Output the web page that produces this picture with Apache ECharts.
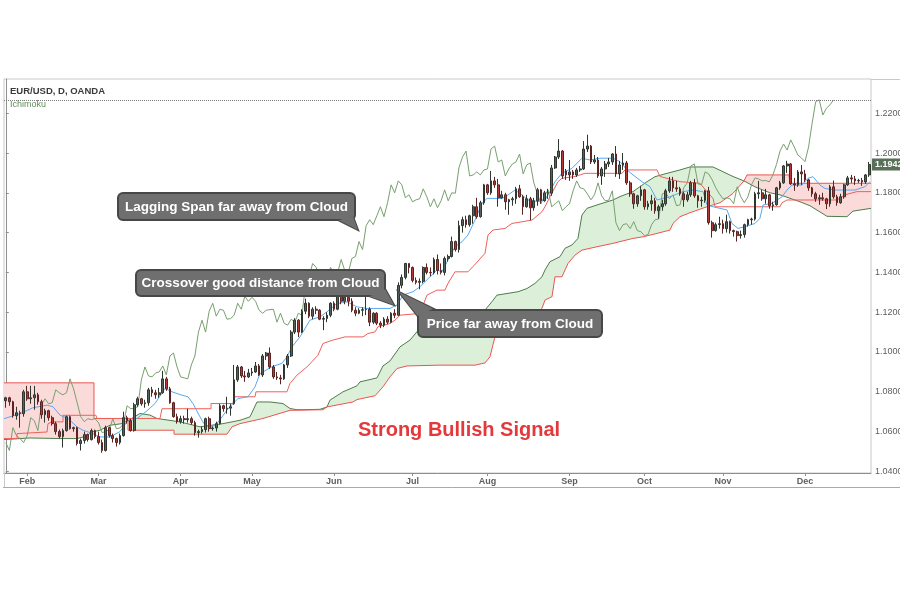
<!DOCTYPE html>
<html>
<head>
<meta charset="utf-8">
<title>EUR/USD, D, OANDA - Ichimoku</title>
<script src="https://cdn.jsdelivr.net/npm/echarts@6/dist/echarts.min.js"></script>
<style>
  html, body { margin: 0; padding: 0; background: #fff; }
  #chart { width: 900px; height: 600px; }
</style>
</head>
<body>
<div id="chart"></div>
<script>
// x axis: one unit per daily bar, first bar = Jan 24
const monthNames = ['Feb', 'Mar', 'Apr', 'May', 'Jun', 'Jul', 'Aug', 'Sep', 'Oct', 'Nov', 'Dec'];
const monthStarts = [6, 26, 49, 69, 92, 114, 135, 158, 179, 201, 224];
const priceTicks = [1.04, 1.06, 1.08, 1.10, 1.12, 1.14, 1.16, 1.18, 1.20, 1.22];
const lastPrice = 1.1942;
const lagHigh = 1.2267;

// daily candles [open, close, low, high]
const ohlc = [
  [1.0755,1.0770,1.0720,1.0775],[1.0770,1.0750,1.0730,1.0775],[1.0750,1.0680,1.0670,1.0755],[1.0680,1.0695,1.0660,1.0725],
  [1.0695,1.0690,1.0620,1.0705],[1.0690,1.0800,1.0675,1.0810],[1.0800,1.0765,1.0755,1.0830],[1.0765,1.0770,1.0740,1.0830],
  [1.0770,1.0785,1.0710,1.0830],[1.0785,1.0750,1.0735,1.0795],[1.0750,1.0685,1.0665,1.0760],[1.0685,1.0705,1.0645,1.0715],
  [1.0705,1.0670,1.0655,1.0710],[1.0670,1.0640,1.0630,1.0680],[1.0640,1.0600,1.0585,1.0650],[1.0600,1.0575,1.0565,1.0610],
  [1.0575,1.0605,1.0520,1.0615],[1.0605,1.0675,1.0600,1.0680],[1.0675,1.0615,1.0610,1.0680],[1.0615,1.0620,1.0600,1.0625],
  [1.0620,1.0540,1.0530,1.0625],[1.0540,1.0555,1.0505,1.0565],[1.0555,1.0585,1.0540,1.0600],[1.0585,1.0560,1.0550,1.0590],
  [1.0560,1.0605,1.0555,1.0615],[1.0605,1.0575,1.0565,1.0610],[1.0575,1.0545,1.0535,1.0600],[1.0545,1.0505,1.0494,1.0560],
  [1.0505,1.0620,1.0500,1.0630],[1.0620,1.0580,1.0570,1.0625],[1.0580,1.0565,1.0545,1.0590],[1.0565,1.0545,1.0525,1.0570],
  [1.0545,1.0580,1.0535,1.0590],[1.0580,1.0670,1.0575,1.0700],[1.0670,1.0655,1.0640,1.0680],[1.0655,1.0605,1.0600,1.0665],
  [1.0605,1.0735,1.0600,1.0745],[1.0735,1.0765,1.0725,1.0775],[1.0765,1.0740,1.0730,1.0770],[1.0740,1.0745,1.0720,1.0760],
  [1.0745,1.0810,1.0730,1.0820],[1.0810,1.0795,1.0775,1.0825],[1.0795,1.0785,1.0765,1.0810],[1.0785,1.0795,1.0770,1.0820],
  [1.0795,1.0865,1.0790,1.0905],[1.0865,1.0815,1.0805,1.0875],[1.0815,1.0745,1.0740,1.0825],[1.0745,1.0675,1.0670,1.0750],
  [1.0675,1.0650,1.0640,1.0690],[1.0650,1.0665,1.0640,1.0680],[1.0665,1.0660,1.0640,1.0680],[1.0660,1.0665,1.0645,1.0715],
  [1.0665,1.0645,1.0635,1.0675],[1.0645,1.0595,1.0580,1.0655],[1.0595,1.0600,1.0570,1.0610],[1.0600,1.0610,1.0590,1.0625],
  [1.0610,1.0665,1.0595,1.0670],[1.0665,1.0615,1.0600,1.0675],[1.0615,1.0618,1.0605,1.0625],[1.0618,1.0640,1.0600,1.0650],
  [1.0640,1.0730,1.0635,1.0740],[1.0730,1.0715,1.0700,1.0735],[1.0715,1.0718,1.0690,1.0775],[1.0718,1.0725,1.0680,1.0740],
  [1.0740,1.0860,1.0735,1.0935],[1.0860,1.0925,1.0850,1.0935],[1.0925,1.0880,1.0870,1.0930],[1.0880,1.0875,1.0850,1.0905],
  [1.0875,1.0895,1.0870,1.0915],[1.0895,1.0900,1.0880,1.0920],[1.0900,1.0930,1.0895,1.0950],[1.0930,1.0885,1.0880,1.0940],
  [1.0885,1.0980,1.0875,1.0990],[1.0980,1.0995,1.0960,1.1000],[1.0995,1.0925,1.0915,1.1023],[1.0925,1.0875,1.0865,1.0935],
  [1.0875,1.0870,1.0860,1.0900],[1.0870,1.0865,1.0838,1.0885],[1.0865,1.0935,1.0860,1.0940],[1.0935,1.0980,1.0920,1.0990],
  [1.0980,1.1100,1.0975,1.1110],[1.1100,1.1160,1.1090,1.1170],[1.1160,1.1100,1.1075,1.1165],[1.1100,1.1205,1.1095,1.1215],
  [1.1205,1.1245,1.1190,1.1268],[1.1245,1.1180,1.1170,1.1250],[1.1180,1.1215,1.1165,1.1225],[1.1215,1.1210,1.1190,1.1230],
  [1.1210,1.1165,1.1160,1.1215],[1.1165,1.1168,1.1110,1.1180],[1.1168,1.1185,1.1150,1.1200],[1.1185,1.1245,1.1175,1.1250],
  [1.1245,1.1215,1.1205,1.1255],[1.1215,1.1280,1.1210,1.1285],[1.1280,1.1255,1.1240,1.1285],[1.1255,1.1275,1.1240,1.1285],
  [1.1275,1.1255,1.1230,1.1285],[1.1255,1.1210,1.1200,1.1270],[1.1210,1.1195,1.1180,1.1225],[1.1195,1.1210,1.1190,1.1220],
  [1.1210,1.1213,1.1180,1.1225],[1.1213,1.1215,1.1185,1.1295],[1.1215,1.1150,1.1130,1.1225],[1.1150,1.1195,1.1140,1.1200],
  [1.1195,1.1145,1.1135,1.1200],[1.1145,1.1135,1.1120,1.1155],[1.1135,1.1165,1.1125,1.1175],[1.1165,1.1150,1.1140,1.1180],
  [1.1150,1.1195,1.1145,1.1200],[1.1195,1.1185,1.1170,1.1215],[1.1185,1.1335,1.1180,1.1350],[1.1335,1.1375,1.1320,1.1390],
  [1.1375,1.1445,1.1365,1.1448],[1.1445,1.1425,1.1395,1.1445],[1.1425,1.1360,1.1350,1.1430],[1.1360,1.1350,1.1340,1.1375],
  [1.1350,1.1355,1.1315,1.1370],[1.1355,1.1425,1.1345,1.1430],[1.1425,1.1400,1.1390,1.1445],[1.1400,1.1398,1.1380,1.1425],
  [1.1398,1.1465,1.1390,1.1475],[1.1465,1.1410,1.1390,1.1490],[1.1410,1.1400,1.1390,1.1445],[1.1400,1.1470,1.1385,1.1480],
  [1.1470,1.1480,1.1455,1.1490],[1.1480,1.1555,1.1475,1.1580],[1.1555,1.1515,1.1505,1.1560],[1.1515,1.1635,1.1500,1.1660],
  [1.1635,1.1665,1.1600,1.1680],[1.1665,1.1640,1.1625,1.1685],[1.1640,1.1685,1.1630,1.1690],[1.1685,1.1730,1.1645,1.1740],
  [1.1730,1.1680,1.1670,1.1775],[1.1680,1.1750,1.1675,1.1760],[1.1750,1.1840,1.1740,1.1845],[1.1840,1.1800,1.1790,1.1845],
  [1.1800,1.1860,1.1790,1.1910],[1.1860,1.1840,1.1825,1.1880],[1.1840,1.1775,1.1730,1.1870],[1.1775,1.1790,1.1770,1.1810],
  [1.1790,1.1755,1.1715,1.1800],[1.1755,1.1765,1.1690,1.1770],[1.1765,1.1770,1.1735,1.1780],[1.1770,1.1820,1.1745,1.1830],
  [1.1820,1.1780,1.1775,1.1840],[1.1780,1.1730,1.1690,1.1790],[1.1730,1.1770,1.1725,1.1790],[1.1770,1.1725,1.1662,1.1780],
  [1.1725,1.1760,1.1710,1.1775],[1.1760,1.1815,1.1735,1.1825],[1.1815,1.1760,1.1745,1.1820],[1.1760,1.1800,1.1755,1.1810],
  [1.1800,1.1798,1.1770,1.1820],[1.1798,1.1925,1.1785,1.1940],[1.1925,1.1980,1.1920,1.1985],[1.1980,1.2010,1.1970,1.2070],
  [1.2010,1.1885,1.1870,1.2015],[1.1910,1.1890,1.1865,1.1920],[1.1890,1.1905,1.1860,1.1965],[1.1905,1.1890,1.1870,1.1915],
  [1.1890,1.1915,1.1880,1.1925],[1.1915,1.1920,1.1905,1.1935],[1.1920,1.2020,1.1915,1.2060],[1.2020,1.2035,1.2005,1.2092],
  [1.2035,1.1955,1.1945,1.2040],[1.1955,1.1965,1.1945,1.1990],[1.1965,1.1885,1.1875,1.1980],[1.1885,1.1920,1.1840,1.1930],
  [1.1920,1.1945,1.1880,1.1960],[1.1945,1.1955,1.1930,1.1975],[1.1955,1.1995,1.1940,1.2000],[1.1995,1.1895,1.1880,1.2035],
  [1.1895,1.1940,1.1870,1.1960],[1.1940,1.1950,1.1915,1.2000],[1.1950,1.1850,1.1840,1.1960],[1.1850,1.1795,1.1780,1.1860],
  [1.1795,1.1745,1.1720,1.1800],[1.1745,1.1785,1.1730,1.1790],[1.1785,1.1815,1.1760,1.1835],[1.1815,1.1730,1.1715,1.1820],
  [1.1730,1.1745,1.1715,1.1760],[1.1745,1.1760,1.1710,1.1790],[1.1760,1.1710,1.1695,1.1775],[1.1710,1.1730,1.1670,1.1740],
  [1.1730,1.1745,1.1710,1.1765],[1.1745,1.1810,1.1735,1.1820],[1.1810,1.1860,1.1800,1.1880],[1.1860,1.1825,1.1805,1.1880],
  [1.1825,1.1820,1.1805,1.1860],[1.1820,1.1795,1.1785,1.1830],[1.1795,1.1765,1.1730,1.1805],[1.1765,1.1790,1.1755,1.1805],
  [1.1790,1.1850,1.1780,1.1860],[1.1850,1.1785,1.1775,1.1870],[1.1785,1.1760,1.1725,1.1790],[1.1760,1.1763,1.1730,1.1780],
  [1.1763,1.1810,1.1750,1.1815],[1.1810,1.1650,1.1640,1.1830],[1.1650,1.1610,1.1575,1.1660],[1.1610,1.1640,1.1605,1.1650],
  [1.1640,1.1645,1.1620,1.1680],[1.1645,1.1620,1.1595,1.1665],[1.1620,1.1655,1.1600,1.1690],[1.1655,1.1610,1.1595,1.1660],
  [1.1610,1.1605,1.1580,1.1615],[1.1605,1.1585,1.1555,1.1610],[1.1585,1.1590,1.1570,1.1610],[1.1590,1.1640,1.1575,1.1645],
  [1.1640,1.1665,1.1630,1.1670],[1.1665,1.1668,1.1640,1.1675],[1.1668,1.1795,1.1660,1.1805],[1.1795,1.1800,1.1770,1.1860],
  [1.1800,1.1770,1.1760,1.1815],[1.1770,1.1790,1.1745,1.1820],[1.1790,1.1735,1.1720,1.1795],[1.1735,1.1740,1.1710,1.1755],
  [1.1740,1.1825,1.1735,1.1830],[1.1825,1.1850,1.1815,1.1860],[1.1850,1.1935,1.1845,1.1940],[1.1935,1.1945,1.1900,1.1961],
  [1.1945,1.1845,1.1840,1.1950],[1.1845,1.1840,1.1810,1.1875],[1.1840,1.1905,1.1830,1.1915],[1.1905,1.1895,1.1840,1.1940],
  [1.1895,1.1865,1.1855,1.1915],[1.1865,1.1825,1.1810,1.1870],[1.1825,1.1795,1.1780,1.1830],[1.1795,1.1770,1.1755,1.1805],
  [1.1770,1.1775,1.1740,1.1790],[1.1775,1.1770,1.1760,1.1800],[1.1770,1.1745,1.1718,1.1775],[1.1745,1.1830,1.1730,1.1840],
  [1.1830,1.1780,1.1770,1.1862],[1.1780,1.1750,1.1735,1.1790],[1.1750,1.1780,1.1745,1.1795],[1.1780,1.1840,1.1770,1.1845],
  [1.1840,1.1875,1.1835,1.1885],[1.1875,1.1870,1.1850,1.1890],[1.1870,1.1860,1.1840,1.1885],[1.1860,1.1862,1.1850,1.1870],
  [1.1862,1.1855,1.1835,1.1875],[1.1855,1.1890,1.1845,1.1895],[1.1890,1.1942,1.1880,1.1955]
];

// conversion line (blue) [bar, price]
const tenkan = [
  [-0.5,1.0665],[3.98,1.0690],[7.63,1.0720],[11.55,1.0733],[13.23,1.0725],[15.19,1.0683],[17.44,1.0666],[19.96,1.0624],
  [21.64,1.0607],[24.44,1.0590],[26.41,1.0573],[29.21,1.0573],[32.01,1.0600],[33.97,1.0650],[36.78,1.0666],[39.58,1.0705],
  [41.82,1.0741],[44.62,1.0817],[46.59,1.0800],[49.39,1.0783],[51.07,1.0775],[52.47,1.0741],[54.43,1.0674],[55.83,1.0632],
  [57.80,1.0624],[59.20,1.0641],[60.60,1.0674],[62.00,1.0708],[63.68,1.0741],[65.08,1.0766],[67.88,1.0775],[69.85,1.0825],
  [71.25,1.0892],[74.61,1.0926],[77.42,1.0943],[78.80,1.0976],[80.22,1.1026],[82.46,1.1076],[85.26,1.1160],[88.07,1.1177],
  [90.03,1.1202],[92.83,1.1244],[95.63,1.1252],[98.43,1.1227],[101.24,1.1219],[107.68,1.1219],[109.65,1.1236],[111.33,1.1286],
  [114.13,1.1303],[116.09,1.1328],[118.89,1.1378],[120.85,1.1412],[122.26,1.1403],[123.94,1.1462],[125.90,1.1529],[127.86,1.1554],
  [129.54,1.1588],[131.51,1.1663],[133.47,1.1747],[134.87,1.1772],[139.07,1.1772],[140.75,1.1789],[142.72,1.1814],[144.68,1.1789],
  [146.36,1.1764],[149.16,1.1756],[151.13,1.1764],[152.53,1.1806],[153.93,1.1856],[155.89,1.1898],[158.69,1.1923],[161.49,1.1974],
  [163.74,1.1965],[166.54,1.1974],[170.18,1.1974],[172.15,1.1957],[174.11,1.1915],[175.79,1.1890],[178.31,1.1856],[180.55,1.1831],
  [182.52,1.1764],[184.20,1.1772],[186.16,1.1780],[189.80,1.1806],[192.61,1.1814],[195.41,1.1806],[196.53,1.1739],[198.21,1.1730],
  [202.13,1.1714],[203.53,1.1646],[205.22,1.1621],[207.18,1.1630],[209.98,1.1646],[211.38,1.1672],[212.22,1.1739],[214.75,1.1747],
  [217.55,1.1780],[218.95,1.1814],[220.35,1.1839],[223.16,1.1839],[224.84,1.1873],[226.24,1.1881],[228.20,1.1839],[229.60,1.1822],
  [232.41,1.1814],[238.01,1.1814],[240.81,1.1831],[242.21,1.1856]
];

// base line (red)
const kijun = [
  [-0.5,1.0565],[3.14,1.0565],[3.14,1.0590],[11.55,1.0598],[11.83,1.0640],[12.95,1.0649],[16.04,1.0649],[16.04,1.0682],
  [25.28,1.0682],[25.56,1.0666],[43.22,1.0666],[43.78,1.0715],[57.52,1.0715],[57.52,1.0741],[63.68,1.0741],[63.96,1.0775],
  [69.85,1.0775],[70.13,1.0800],[78.80,1.0800],[79.66,1.0842],[81.62,1.0884],[84.42,1.0925],[87.50,1.0984],[88.91,1.1043],
  [91.71,1.1060],[95.07,1.1076],[100.12,1.1076],[101.52,1.1093],[103.48,1.1101],[104.32,1.1127],[107.68,1.1143],[109.08,1.1160],
  [110.49,1.1185],[116.09,1.1194],[118.05,1.1286],[120.85,1.1311],[123.10,1.1311],[123.94,1.1345],[125.90,1.1403],[129.54,1.1403],
  [130.94,1.1429],[134.31,1.1496],[135.15,1.1588],[136.55,1.1613],[139.91,1.1621],[141.87,1.1646],[147.48,1.1663],[150.28,1.1705],
  [151.13,1.1730],[152.53,1.1781],[154.77,1.1856],[155.89,1.1873],[159.53,1.1882],[162.33,1.1898],[172.71,1.1898],[173.55,1.1915],
  [182.52,1.1915],[183.36,1.1882],[188.96,1.1856],[194.57,1.1848],[196.53,1.1806],[198.21,1.1772],[198.77,1.1730],[216.99,1.1730],
  [217.55,1.1750],[218.95,1.1764],[232.97,1.1764],[235.21,1.1790],[238.57,1.1806],[242.5,1.1806]
];

// leading span A (dark green) and B (red), already shifted forward
const spanA = [
  [-0.5,1.0560],[6.79,1.0568],[15.19,1.0565],[19.96,1.0565],[22.20,1.0575],[24.44,1.0599],[26.41,1.0607],[29.21,1.0632],
  [32.57,1.0640],[34.25,1.0655],[37.62,1.0691],[40.42,1.0683],[42.38,1.0666],[48.83,1.0649],[54.43,1.0624],[60.88,1.0640],
  [65.64,1.0657],[68.44,1.0674],[70.41,1.0749],[74.05,1.0749],[77.70,1.0741],[79.66,1.0716],[81.62,1.0710],[83.30,1.0710],
  [88.07,1.0712],[90.03,1.0724],[90.87,1.0758],[94.51,1.0800],[98.43,1.0830],[99.28,1.0850],[104.04,1.0870],[105.72,1.0930],
  [107.68,1.0955],[110.49,1.1026],[113.29,1.1060],[115.25,1.1102],[116.09,1.1118],[121.70,1.1130],[127.30,1.1160],[132.07,1.1202],
  [134.31,1.1211],[136.27,1.1253],[137.67,1.1286],[143.56,1.1303],[146.08,1.1319],[148.32,1.1345],[150.28,1.1378],[151.13,1.1412],
  [152.53,1.1454],[155.33,1.1479],[156.73,1.1521],[158.69,1.1538],[160.37,1.1571],[161.49,1.1688],[162.89,1.1722],[165.70,1.1739],
  [170.18,1.1764],[172.15,1.1781],[175.79,1.1806],[179.72,1.1856],[181.96,1.1881],[185.32,1.1898],[188.96,1.1915],[191.77,1.1930],
  [198.21,1.1930],[201.01,1.1906],[203.82,1.1882],[206.90,1.1860],[209.98,1.1830],[214.19,1.1800],[216.99,1.1790],[222.59,1.1755],
  [225.40,1.1735],[230.16,1.1682],[235.77,1.1680],[237.45,1.1708],[242.5,1.1722]
];
const spanB = [
  [-0.5,1.0845],[24.72,1.0845],[24.72,1.0666],[34.25,1.0666],[34.25,1.0655],[34.25,1.0607],[47.15,1.0607],[47.15,1.0587],
  [62.00,1.0587],[63.40,1.0624],[65.64,1.0640],[72.09,1.0666],[79.66,1.0707],[88.91,1.0710],[90.03,1.0724],[97.31,1.0749],
  [98.43,1.0761],[103.48,1.0780],[105.72,1.0825],[107.68,1.0875],[109.65,1.0917],[112.45,1.0930],[121.70,1.0934],[131.51,1.0934],
  [134.31,1.0945],[135.71,1.0976],[137.11,1.1076],[139.07,1.1093],[142.72,1.1110],[148.32,1.1185],[150.28,1.1219],[151.13,1.1261],
  [153.09,1.1278],[153.93,1.1378],[155.89,1.1378],[157.57,1.1445],[159.53,1.1487],[161.49,1.1512],[165.70,1.1529],[170.18,1.1546],
  [175.79,1.1571],[178.59,1.1579],[182.52,1.1596],[186.16,1.1613],[187.00,1.1646],[188.96,1.1680],[191.77,1.1700],[196.53,1.1730],
  [200.17,1.1750],[203.82,1.1797],[206.90,1.1860],[207.74,1.1890],[219.51,1.1890],[219.79,1.1848],[242.5,1.1848]
];

// cloud pieces between the two spans: [from bar, to bar, colour]
const cloudSegments = [
  [-0.5, 34.25, '#fbdada'],
  [34.25, 206.90, '#dcefd9'],
  [206.90, 242.5, '#fbdada']
];

// lagging span (green), one value per bar from bar 0
const lagging = [
  1.0545,1.0505,1.0620,1.0580,1.0565,1.0545,1.0580,1.0670,1.0655,1.0605,
  1.0735,1.0765,1.0740,1.0745,1.0810,1.0795,1.0785,1.0795,1.0865,1.0815,
  1.0745,1.0675,1.0650,1.0665,1.0660,1.0665,1.0645,1.0595,1.0600,1.0610,
  1.0665,1.0615,1.0618,1.0640,1.0730,1.0715,1.0718,1.0725,1.0860,1.0925,
  1.0880,1.0875,1.0895,1.0900,1.0930,1.0885,1.0980,1.0995,1.0925,1.0875,
  1.0870,1.0865,1.0935,1.0980,1.1100,1.1160,1.1100,1.1205,1.1245,1.1180,
  1.1215,1.1210,1.1165,1.1168,1.1185,1.1245,1.1215,1.1280,1.1255,1.1275,
  1.1255,1.1210,1.1195,1.1210,1.1213,1.1215,1.1150,1.1195,1.1145,1.1135,
  1.1165,1.1150,1.1195,1.1185,1.1335,1.1375,1.1445,1.1425,1.1360,1.1350,
  1.1355,1.1425,1.1400,1.1398,1.1465,1.1410,1.1400,1.1470,1.1480,1.1555,
  1.1515,1.1635,1.1665,1.1640,1.1685,1.1730,1.1680,1.1750,1.1840,1.1800,
  1.1860,1.1840,1.1775,1.1790,1.1755,1.1765,1.1770,1.1820,1.1780,1.1730,
  1.1770,1.1725,1.1760,1.1815,1.1760,1.1800,1.1798,1.1925,1.1980,1.2010,
  1.1885,1.1890,1.1905,1.1890,1.1915,1.1920,1.2020,1.2035,1.1955,1.1965,
  1.1885,1.1920,1.1945,1.1955,1.1995,1.1895,1.1940,1.1950,1.1850,1.1795,
  1.1745,1.1785,1.1815,1.1730,1.1745,1.1760,1.1710,1.1730,1.1745,1.1810,
  1.1860,1.1825,1.1820,1.1795,1.1765,1.1790,1.1850,1.1785,1.1760,1.1763,
  1.1810,1.1650,1.1610,1.1640,1.1645,1.1620,1.1655,1.1610,1.1605,1.1585,
  1.1590,1.1640,1.1665,1.1668,1.1795,1.1800,1.1770,1.1790,1.1735,1.1740,
  1.1825,1.1850,1.1935,1.1945,1.1845,1.1840,1.1905,1.1895,1.1865,1.1825,
  1.1795,1.1770,1.1775,1.1770,1.1745,1.1830,1.1780,1.1750,1.1780,1.1840,
  1.1875,1.1870,1.1860,1.1862,1.1855,1.1890,1.1942,1.2010,1.2045,1.2015,
  1.2066,1.2030,1.1990,1.1975,1.1957,1.2030,1.2150,1.2258,1.2267,1.2191,
  1.2225,1.2242,1.2267
];

const candleData = ohlc.map((r, i) => [i, r[0], r[1], r[2], r[3]]);
const lagData = lagging.map((v, i) => [i, v]);

const chart = echarts.init(document.getElementById('chart'));

function lineSeries(name, data, color, z) {
  return {
    name: name, type: 'line', data: data, showSymbol: false, symbol: 'none',
    lineStyle: { color: color, width: 1 }, z: z, silent: true
  };
}

// grey speech box with a pointer, drawn above everything
function callout(text, box, tail) {
  const fill = '#6f6f6f', edge = '#474747';
  return [
    { type: 'polygon', z: 100, shape: { points: tail }, style: { fill: fill, stroke: edge, lineWidth: 2 } },
    { type: 'rect', z: 101, shape: { x: box[0], y: box[1], width: box[2], height: box[3], r: 5 },
      style: { fill: fill, stroke: edge, lineWidth: 2 } },
    { type: 'polygon', z: 102, shape: { points: tail }, style: { fill: fill },
      scaleX: 0.88, scaleY: 0.88, originX: tail[2][0], originY: tail[2][1] },
    { type: 'text', z: 103, x: box[0] + box[2] / 2, y: box[1] + box[3] / 2 + 0.5,
      style: { text: text, fill: '#ffffff', fontSize: 13.5, fontWeight: 'bold',
               fontFamily: 'Liberation Sans', align: 'center', verticalAlign: 'middle' } }
  ];
}

const option = {
  animation: false,
  backgroundColor: '#ffffff',
  grid: {
    left: 4, right: 29, top: 79, bottom: 127, outerBoundsMode: 'none', containLabel: false,
    show: true, borderColor: '#c9c9c9', borderWidth: 1
  },
  xAxis: {
    type: 'value', min: -0.5, max: 242.5,
    axisLine: { show: true, lineStyle: { color: '#8e8e8e' } },
    axisTick: { show: true, customValues: monthStarts, length: 3, lineStyle: { color: '#8e8e8e' } },
    axisLabel: {
      customValues: monthStarts,
      formatter: v => monthNames[monthStarts.indexOf(v)] || '',
      color: '#5e5e5e', fontSize: 9, fontWeight: 'bold', fontFamily: 'Liberation Sans', margin: 4
    },
    splitLine: { show: false }
  },
  yAxis: {
    type: 'value', position: 'right', min: 1.0392, max: 1.2372,
    axisLine: { show: true, lineStyle: { color: '#8e8e8e' } },
    axisTick: { show: true, customValues: priceTicks, length: 3, lineStyle: { color: '#8e8e8e' } },
    axisLabel: {
      customValues: priceTicks,
      formatter: v => v.toFixed(4),
      color: '#5e5e5e', fontSize: 9, fontFamily: 'Liberation Sans', margin: 4
    },
    splitLine: { show: false }
  },
  series: [
    {
      name: 'Cloud', type: 'custom', z: 1, silent: true, clip: true,
      data: cloudSegments.map(s => [s[0], s[1]]),
      encode: { x: 0, y: 1 },
      renderItem: (params, api) => {
        const seg = cloudSegments[params.dataIndex];
        const inSeg = p => p[0] >= seg[0] && p[0] <= seg[1];
        const pts = spanA.filter(inSeg).map(p => api.coord(p))
          .concat(spanB.filter(inSeg).reverse().map(p => api.coord(p)));
        return { type: 'polygon', shape: { points: pts }, style: { fill: seg[2] } };
      }
    },
    lineSeries('Lead 1', spanA, '#4d7d4a', 2),
    lineSeries('Lead 2', spanB, '#ec5550', 2),
    Object.assign(lineSeries('Lagging Span', lagData, '#78a06f', 3), {
      markLine: {
        silent: true, symbol: 'none', precision: 4, label: { show: false },
        lineStyle: { type: 'dotted', color: '#7a7a7a', width: 1 },
        data: [{ yAxis: lagHigh }]
      }
    }),
    lineSeries('Base Line', kijun, '#f0605b', 3),
    lineSeries('Conversion Line', tenkan, '#5aa8ee', 3),
    {
      name: 'EUR/USD', type: 'candlestick', z: 4, silent: true,
      data: candleData,
      encode: { x: 0, y: [1, 2, 3, 4] },
      barWidth: 2.2,
      itemStyle: {
        color: '#59625a', borderColor: '#2f3630',
        color0: '#b13a36', borderColor0: '#5b2422', borderWidth: 1
      },
      markLine: {
        silent: true, symbol: 'none', precision: 4,
        lineStyle: { color: 'rgba(0,0,0,0)', width: 1 },
        label: {
          show: true, position: 'end', formatter: lastPrice.toFixed(4), distance: 1,
          backgroundColor: '#587057', color: '#ffffff', fontSize: 9, fontWeight: 'bold',
          fontFamily: 'Liberation Sans', padding: [2, 3, 1, 3]
        },
        data: [{ yAxis: lastPrice }]
      }
    }
  ],
  graphic: [
    { type: 'line', z: 90, shape: { x1: 871, y1: 79.5, x2: 900, y2: 79.5 }, style: { stroke: '#c9c9c9', lineWidth: 1 } },
    { type: 'line', z: 90, shape: { x1: 3, y1: 487.5, x2: 900, y2: 487.5 }, style: { stroke: '#a9a9a9', lineWidth: 1 } },
    { type: 'line', z: 90, shape: { x1: 4.5, y1: 473, x2: 4.5, y2: 487 }, style: { stroke: '#c9c9c9', lineWidth: 1 } },
    { type: 'text', x: 10, y: 86, z: 90,
      style: { text: 'EUR/USD, D, OANDA', fill: '#3a3a3a', fontSize: 9.5, fontWeight: 'bold', fontFamily: 'Liberation Sans' } },
    { type: 'text', x: 10, y: 100, z: 90,
      style: { text: 'Ichimoku', fill: '#5f8a5a', fontSize: 9, fontFamily: 'Liberation Sans' } }
  ]
    .concat(callout('Lagging Span far away from Cloud', [118, 193, 237, 27], [[336, 219], [352, 214], [358, 230]]))
    .concat(callout('Crossover good distance from Cloud', [136, 270, 249, 26], [[366, 295], [384, 287], [394, 305]]))
    .concat(callout('Price far away from Cloud', [418, 310, 184, 27], [[420, 319], [438, 311], [399, 292]]))
    .concat([{ type: 'text', x: 459, y: 430, z: 100,
      style: { text: 'Strong Bullish Signal', fill: '#e5383b', fontSize: 20, fontWeight: 'bold',
               fontFamily: 'Liberation Sans', align: 'center', verticalAlign: 'middle' } }])
};

chart.setOption(option);
</script>
</body>
</html>
